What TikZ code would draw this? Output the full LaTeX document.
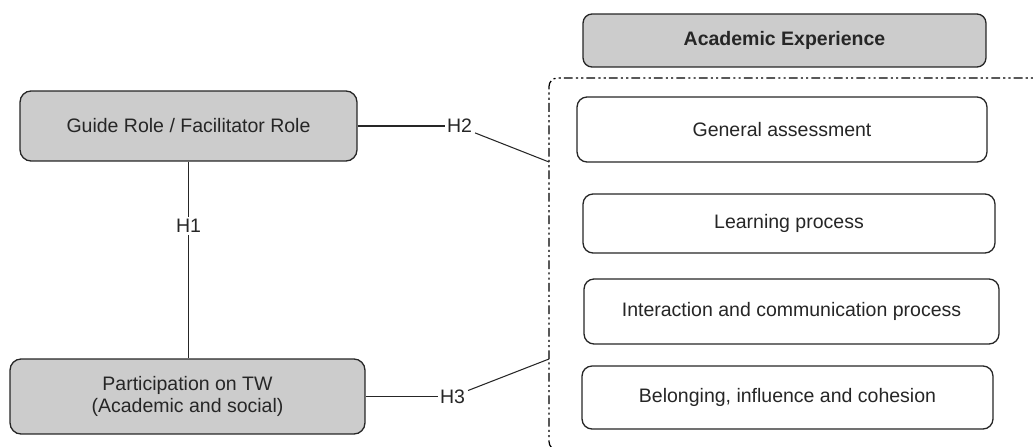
\documentclass[tikz,border=0pt]{standalone}
\usepackage{fontspec}
\setmainfont{Liberation Sans}
\usetikzlibrary{positioning}

\begin{document}
\begin{tikzpicture}[x=0.02cm, y=-0.02cm,
      font=\fontsize{11.1}{12.5}\selectfont, text=black!85,
      role/.style={draw=black!85, line width=0.75pt, fill=black!20, rounded corners=0.22cm, align=center, inner sep=0pt},
      dim/.style={draw=black!85, line width=0.75pt, fill=white, rounded corners=0.2cm, align=center, inner sep=0pt},
      hyp/.style={inner sep=1pt, text=black!85},
      link/.style={draw=black!85, line width=0.6pt},
      frame/.style={draw=black, line width=0.7pt, rounded corners=0.17cm,
                    dash pattern=on 5pt off 1.8pt on 1.2pt off 1.8pt on 1.2pt off 1.8pt}]
    \clip (0,0) rectangle (1033,446);
    % left side
    \node[role, minimum width=6.74cm, minimum height=1.4cm] (guide) at (188.5,126) {Guide Role / Facilitator Role};
    \node[role, minimum width=7.1cm, minimum height=1.5cm] (part) at (187.5,396.5) {Participation on TW\\(Academic and social)};
    % right side
    \node[role, minimum width=8.06cm, minimum height=1.06cm, rounded corners=0.18cm] (acad) at (784.5,40.5) {\bfseries Academic Experience};
    \draw[frame] (1045,78) -- (549,78) -- (549,450) -- (1045,450);
    \node[dim, minimum width=8.2cm, minimum height=1.3cm] (gen) at (782,129.5) {General assessment};
    \node[dim, minimum width=8.24cm, minimum height=1.18cm] (learn) at (789,223.5) {Learning process};
    \node[dim, minimum width=8.3cm, minimum height=1.3cm] (inter) at (791.5,311.5) {Interaction and communication process};
    \node[dim, minimum width=8.22cm, minimum height=1.26cm] (belong) at (787.5,397.5) {Belonging, influence and cohesion};
    % hypotheses
    \coordinate (f2) at (549,162);
    \coordinate (f3) at (549,359);
    \node[hyp] (h1) at (188.5,226) {H1};
    \node[hyp] (h2) at (459.5,126) {H2};
    \node[hyp] (h3) at (452.5,396.5) {H3};
    \draw[link] (guide) -- (h1);
    \draw[link] (h1) -- (h1 |- part.north);
    \draw[link] (guide.east) -- (h2.west);
    \draw[link] (h2.south east) ++(1,-2) -- (f2);
    \draw[link] (part.east) -- (h3.west);
    \draw[link] (h3.east) ++(1,-6) -- (f3);
\end{tikzpicture}
\end{document}
